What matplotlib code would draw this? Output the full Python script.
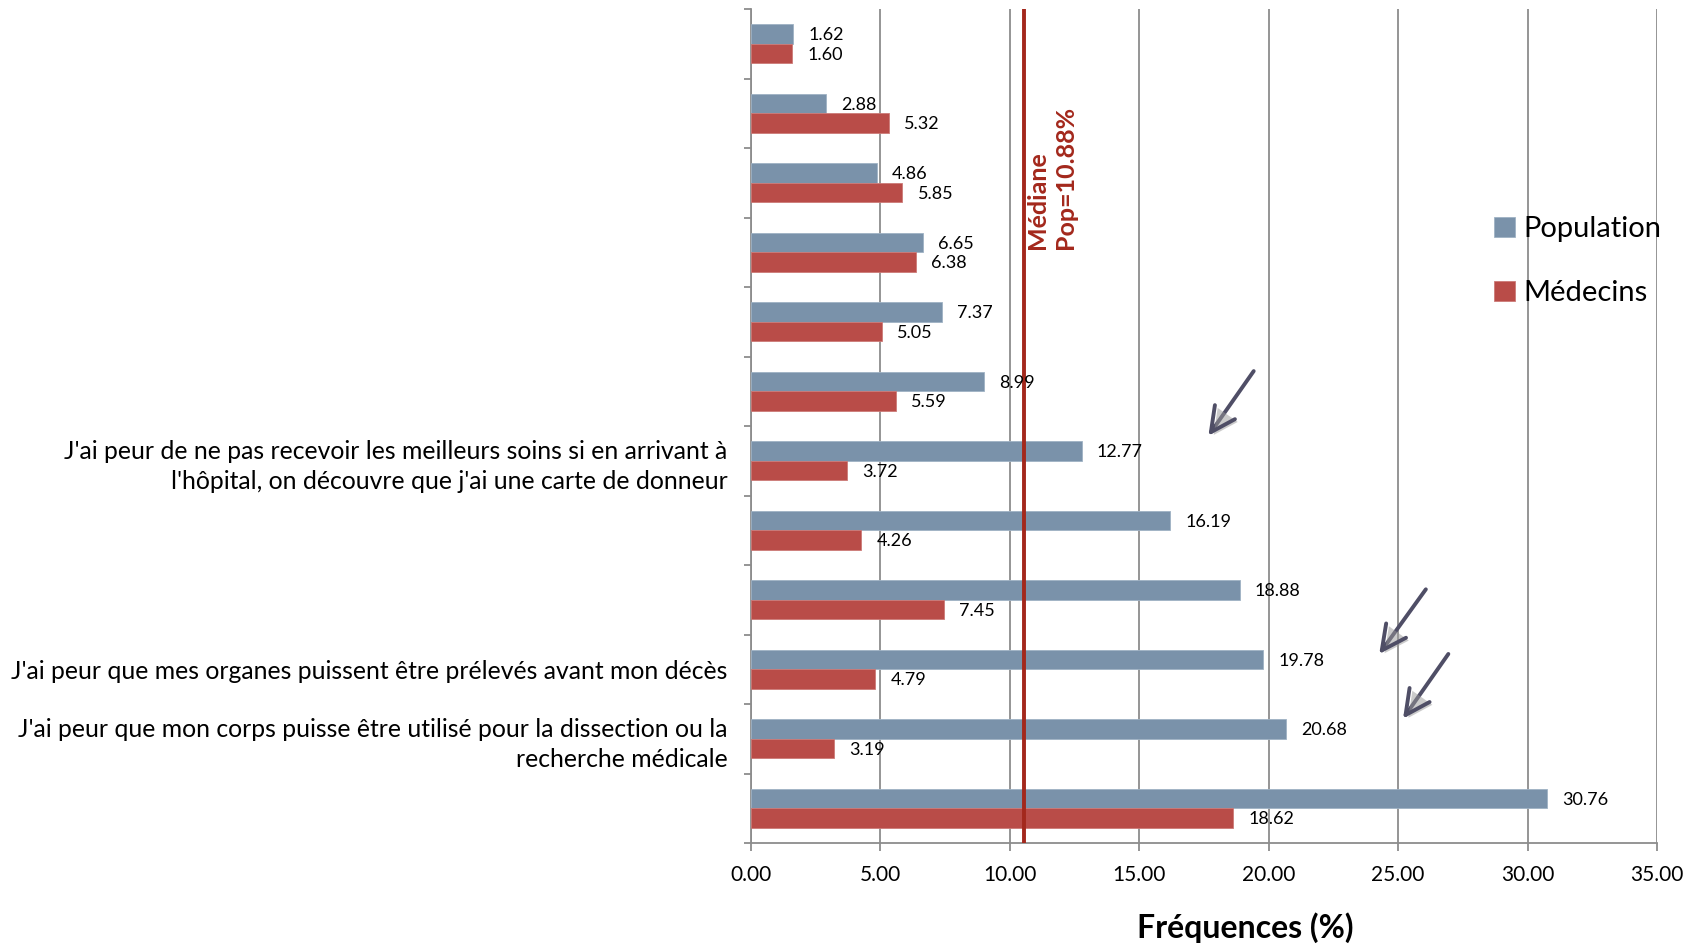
import matplotlib
matplotlib.use("Agg")
import matplotlib.pyplot as plt
import matplotlib.patheffects as pe
import numpy as np

plt.rcParams['font.family'] = ['Lato', 'DejaVu Sans']

# ---- data (top to bottom) ----
categories = [
    "", "", "", "", "", "",
    "J'ai peur de ne pas recevoir les meilleurs soins si en arrivant à\nl'hôpital, on découvre que j'ai une carte de donneur",
    "", "",
    "J'ai peur que mes organes puissent être prélevés avant mon décès",
    "J'ai peur que mon corps puisse être utilisé pour la dissection ou la\nrecherche médicale",
    "",
]
population = [1.62, 2.88, 4.86, 6.65, 7.37, 8.99, 12.77, 16.19, 18.88, 19.78, 20.68, 30.76]
medecins   = [1.60, 5.32, 5.85, 6.38, 5.05, 5.59, 3.72, 4.26, 7.45, 4.79, 3.19, 18.62]
series_names = ["Population", "Médecins"]
median_pos = 10.55          # where the median line is drawn in the picture
median_label = "Médiane\nPop=10.88%"
x_ticks = [0, 5, 10, 15, 20, 25, 30, 35]
# annotation arrows (start -> end), data coords
arrows = [((19.42, 4.71), (17.67, 5.64)),
          ((26.07, 7.85), (24.27, 8.78)),
          ((26.94, 8.78), (25.19, 9.71))]

c_pop = "#7A92AA"
c_med = "#B94C48"
c_line = "#A3281C"
c_grid = "#8C8C8C"

fig = plt.figure(figsize=(16.95, 9.47), dpi=100)
ax = fig.add_axes([751/1695, 1-843/947, (1657-751)/1695, (843-9)/947])

n = len(population)
y = np.arange(n)
h = 0.28
b1 = ax.barh(y - h/2, population, height=h, color=c_pop, edgecolor="#9FB2C4", linewidth=0.6, zorder=3, label=series_names[0])
b2 = ax.barh(y + h/2, medecins, height=h, color=c_med, edgecolor="#CC7A77", linewidth=0.6, zorder=3, label=series_names[1])

for bars, vals in ((b1, population), (b2, medecins)):
    for rect, v in zip(bars, vals):
        ax.annotate(f"{v:.2f}", (rect.get_width(), rect.get_y() + rect.get_height()/2),
                    xytext=(11, -1), textcoords="offset points", ha="left", va="center",
                    fontsize=13, color="black", zorder=5)

ax.set_xlim(0, 35)
ax.set_ylim(n - 0.5, -0.5)
ax.set_xticks(x_ticks)
ax.set_xticklabels([f"{t:.2f}" for t in x_ticks], fontsize=15)
ax.xaxis.grid(True, color=c_grid, linewidth=1.3, zorder=0)
ax.set_axisbelow(True)

ax.set_yticks(np.arange(-0.5, n, 1.0))
ax.set_yticklabels([])
ax.set_yticks(y, minor=True)
ax.set_yticklabels(categories, minor=True, fontsize=17.8, ha="right", multialignment="right",
                   linespacing=1.4)
ax.tick_params(axis="y", which="major", length=5, color=c_grid, width=1.3, direction="out")
ax.tick_params(axis="y", which="minor", length=0, pad=17)
ax.tick_params(axis="x", length=6, color=c_grid, width=1.3, direction="out", pad=10)

for s in ("top", "right"):
    ax.spines[s].set_visible(False)
for s in ("left", "bottom"):
    ax.spines[s].set_color(c_grid)
    ax.spines[s].set_linewidth(1.3)

# median line
ax.axvline(median_pos, color=c_line, linewidth=2.8, zorder=4)
ax.text(median_pos + 0.08, 2.957, median_label, rotation=90, rotation_mode="anchor",
        ha="left", va="top", fontsize=18, fontweight="bold", color=c_line,
        linespacing=1.25, zorder=5)

# arrows
for (s, e) in arrows:
    ann = ax.annotate("", xy=e, xytext=s,
                      arrowprops=dict(arrowstyle="->,head_length=0.8,head_width=0.4",
                                      color="#4F4E66", lw=2.8, mutation_scale=22,
                                      shrinkA=0, shrinkB=0), zorder=6)
    ann.arrow_patch.set_path_effects([pe.SimplePatchShadow(offset=(2, -2), shadow_rgbFace="#999999", alpha=0.5), pe.Normal()])

# legend
leg = fig.legend(handles=[b1, b2], labels=series_names, loc="upper left",
                 bbox_to_anchor=(1468/1695, 1-190/947), frameon=False, fontsize=21,
                 handlelength=0.7, handleheight=0.7, handletextpad=0.3, labelspacing=1.3)

fig.text(1245/1695, 0.02, "Fréquences (%)", ha="center", va="center", fontsize=23, fontweight="bold")

fig.savefig("out.png", dpi=100, facecolor="white")
